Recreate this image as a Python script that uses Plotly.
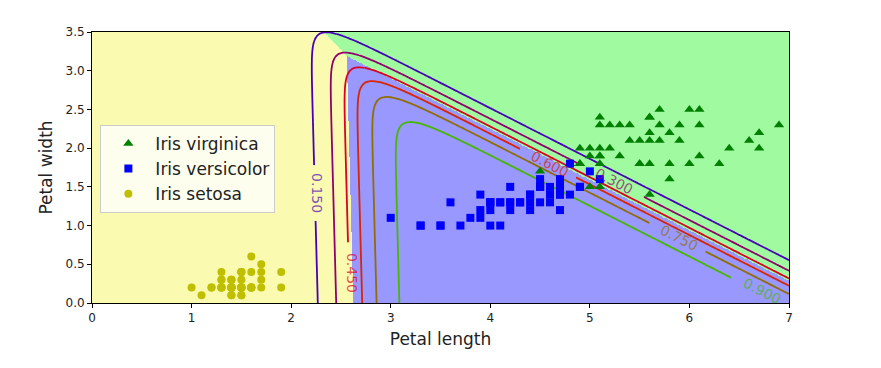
import numpy as np
import plotly.graph_objects as go

# ---- data (iris petal measurements, as plotted) ----
setosa_len = [1.4,1.4,1.3,1.5,1.4,1.7,1.4,1.5,1.4,1.5,1.5,1.6,1.4,1.1,1.2,1.5,1.3,1.4,1.7,1.5,1.7,1.5,1.0,1.7,1.9,
              1.6,1.6,1.5,1.4,1.6,1.6,1.5,1.5,1.4,1.5,1.2,1.3,1.4,1.3,1.5,1.3,1.3,1.3,1.6,1.9,1.4,1.6,1.4,1.5,1.4]
setosa_wid = [0.2,0.2,0.2,0.2,0.2,0.4,0.3,0.2,0.2,0.1,0.2,0.2,0.1,0.1,0.2,0.4,0.4,0.3,0.3,0.3,0.2,0.4,0.2,0.5,0.2,
              0.2,0.4,0.2,0.2,0.2,0.2,0.4,0.1,0.2,0.2,0.2,0.2,0.1,0.2,0.2,0.3,0.3,0.2,0.6,0.4,0.3,0.2,0.2,0.2,0.2]
versicolor_len = [4.7,4.5,4.9,4.0,4.6,4.5,4.7,3.3,4.6,3.9,3.5,4.2,4.0,4.7,3.6,4.4,4.5,4.1,4.5,3.9,4.8,4.0,4.9,4.7,4.3,
                  4.4,4.8,5.0,4.5,3.5,3.8,3.7,3.9,5.1,4.5,4.5,4.7,4.4,4.1,4.0,4.4,4.6,4.0,3.3,4.2,4.2,4.2,4.3,3.0,4.1]
versicolor_wid = [1.4,1.5,1.5,1.3,1.5,1.3,1.6,1.0,1.3,1.4,1.0,1.5,1.0,1.4,1.3,1.4,1.5,1.0,1.5,1.1,1.8,1.3,1.5,1.2,1.3,
                  1.4,1.4,1.7,1.5,1.0,1.1,1.0,1.2,1.6,1.5,1.6,1.5,1.3,1.3,1.3,1.2,1.4,1.2,1.0,1.3,1.2,1.3,1.3,1.1,1.3]
virginica_len = [6.0,5.1,5.9,5.6,5.8,6.6,4.5,6.3,5.8,6.1,5.1,5.3,5.5,5.0,5.1,5.3,5.5,6.7,6.9,5.0,5.7,4.9,6.7,4.9,5.7,
                 6.0,4.8,4.9,5.6,5.8,6.1,6.4,5.6,5.1,5.6,6.1,5.6,5.5,4.8,5.4,5.6,5.1,5.1,5.9,5.7,5.2,5.0,5.2,5.4,5.1]
virginica_wid = [2.5,1.9,2.1,1.8,2.2,2.1,1.7,1.8,1.8,2.5,2.0,1.9,2.1,2.0,2.4,2.3,1.8,2.2,2.3,1.5,2.3,2.0,2.0,1.8,2.1,
                 1.8,1.8,1.8,2.1,1.6,1.9,2.0,2.2,1.5,1.4,2.3,2.4,1.8,1.8,2.1,2.4,2.3,1.9,2.3,2.5,2.3,1.9,2.0,2.3,1.8]

# softmax model (weights for petal length, petal width; intercepts), estimated from the figure
coef_len = [0.0, 4.8, 9.04]
coef_wid = [0.0, 0.1, 6.58]
intercepts = [0.0, -12.62, -44.15]

contour_levels = [0.15, 0.30, 0.45, 0.60, 0.75, 0.90]
level_labels = ["0.150", "0.300", "0.450", "0.600", "0.750", "0.900"]
level_rgb = [(73, 0, 182), (146, 0, 109), (219, 0, 36), (219, 36, 0), (146, 109, 0), (73, 182, 0)]
region_colors = ["#fafab0", "#9898ff", "#a0faa0"]
x_ticks = [0, 1, 2, 3, 4, 5, 6, 7]
y_ticks = [0.0, 0.5, 1.0, 1.5, 2.0, 2.5, 3.0, 3.5]

# inline label placement: (x, y, angle) and the gap box cut out of each line (x0, x1, y0, y1)
label_pos = [(2.26, 1.42, 90), (5.24, 1.57, 27), (2.61, 0.39, 90),
             (4.60, 1.80, 27), (5.90, 0.84, 27), (6.73, 0.15, 27)]
label_gaps = [(2.00, 2.45, 1.07, 1.78), (4.88, 5.55, 1.20, 2.00), (2.40, 2.75, 0.00, 0.79),
              (4.30, 4.87, 1.40, 2.10), (5.60, 6.17, 0.50, 1.20), (6.42, 7.00, 0.00, 0.60)]


def scores(X, Y):
    return np.stack([coef_len[k] * X + coef_wid[k] * Y + intercepts[k] for k in range(3)])


# fine grid for regions
xr = np.linspace(0, 7, 701)
yr = np.linspace(0, 3.5, 351)
XR, YR = np.meshgrid(xr, yr)
pred = np.argmax(scores(XR, YR), axis=0)

# grid for probability contours
xc = np.round(np.linspace(0, 7, 351), 4)
yc = np.round(np.linspace(0, 3.5, 176), 4)
XC, YC = np.meshgrid(xc, yc)
S = scores(XC, YC)
S = S - S.max(axis=0)
E = np.exp(S)
P1 = np.round(E[1] / E.sum(axis=0), 4)

fig = go.Figure()

fig.add_trace(go.Heatmap(
    x=xr, y=yr, z=pred, zmin=-0.5, zmax=2.5,
    colorscale=[[0, region_colors[0]], [1/3, region_colors[0]],
                [1/3, region_colors[1]], [2/3, region_colors[1]],
                [2/3, region_colors[2]], [1, region_colors[2]]],
    showscale=False, hoverinfo="skip", zsmooth=False,
))


def idx(arr, v):
    return int(np.argmin(np.abs(arr - v)))


nx, ny = len(xc), len(yc)
for lev, rgb, gap in zip(contour_levels, level_rgb, label_gaps):
    c0, c1 = idx(xc, gap[0]), idx(xc, gap[1])
    r0, r1 = idx(yc, gap[2]), idx(yc, gap[3])
    pieces = [
        (0, c0, 0, ny - 1),
        (c1, nx - 1, 0, ny - 1),
        (c0, c1, 0, r0),
        (c0, c1, r1, ny - 1),
    ]
    for a, b, c, d in pieces:
        if b - a < 1 or d - c < 1:
            continue
        fig.add_trace(go.Contour(
            x=xc[a:b + 1], y=yc[c:d + 1], z=P1[c:d + 1, a:b + 1],
            autocontour=False,
            contours=dict(start=lev, end=lev, size=1, coloring="none", showlabels=False),
            line=dict(color="rgb(%d,%d,%d)" % rgb, width=1.8, smoothing=1),
            showscale=False, hoverinfo="skip", showlegend=False,
        ))

for text, (lx, ly, ang), rgb in zip(level_labels, label_pos, level_rgb):
    fig.add_annotation(x=lx, y=ly, text=text, textangle=ang, showarrow=False,
                       font=dict(size=14, family="DejaVu Sans", color="rgba(%d,%d,%d,0.7)" % rgb))

fig.add_trace(go.Scatter(x=virginica_len, y=virginica_wid, mode="markers", name="Iris virginica",
                         marker=dict(symbol="triangle-up", color="green", size=9)))
fig.add_trace(go.Scatter(x=versicolor_len, y=versicolor_wid, mode="markers", name="Iris versicolor",
                         marker=dict(symbol="square", color="blue", size=8)))
fig.add_trace(go.Scatter(x=setosa_len, y=setosa_wid, mode="markers", name="Iris setosa",
                         marker=dict(symbol="circle", color="#bfbf00", size=8)))

fig.update_layout(
    width=873, height=360,
    margin=dict(l=84, r=92, t=24, b=65),
    paper_bgcolor="white", plot_bgcolor="white",
    font=dict(family="DejaVu Sans", color="#222"),
    showlegend=True,
    legend=dict(x=0.012, y=0.657, xanchor="left", yanchor="top",
                bgcolor="rgba(255,255,255,0.8)", bordercolor="#cccccc", borderwidth=1,
                font=dict(size=17, color="#222"), itemwidth=44),
    xaxis=dict(range=[0, 7], tickvals=x_ticks, ticks="outside", ticklen=4, tickcolor="black",
               showline=True, linecolor="black", linewidth=1, mirror=True, showgrid=False, zeroline=False,
               tickfont=dict(size=12), title=dict(text="Petal length", font=dict(size=17), standoff=8)),
    yaxis=dict(range=[0, 3.5], tickvals=y_ticks, tickformat=".1f", ticks="outside", ticklen=4, tickcolor="black",
               showline=True, linecolor="black", linewidth=1, mirror=True, showgrid=False, zeroline=False,
               tickfont=dict(size=12), title=dict(text="Petal width", font=dict(size=17), standoff=8)),
)

fig.write_html("out.html")
